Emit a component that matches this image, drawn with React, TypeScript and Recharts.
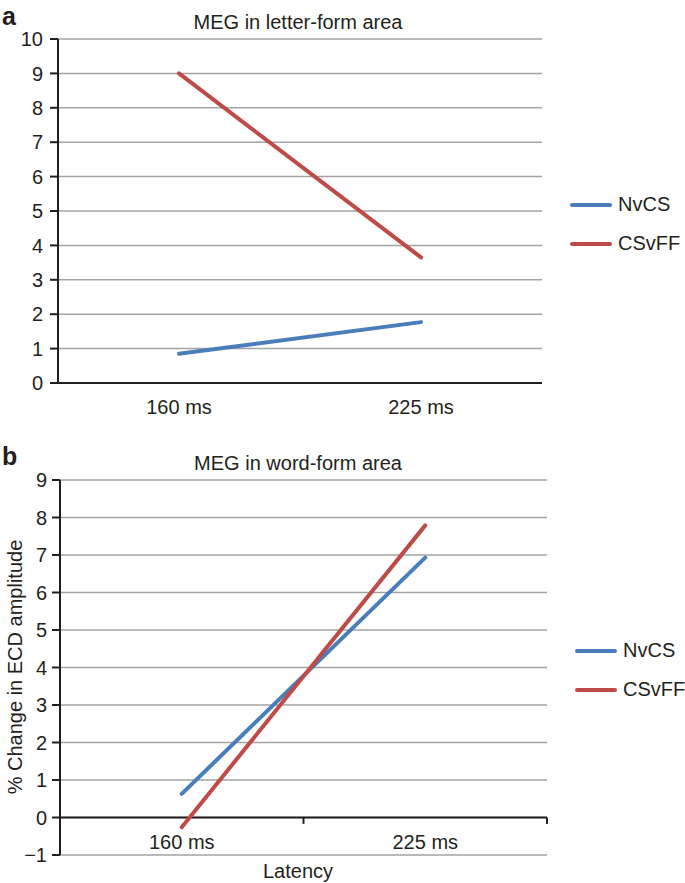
import { LineChart, Line, XAxis, YAxis, CartesianGrid, ReferenceLine, ReferenceDot } from 'recharts'

const categories = ['160 ms', '225 ms']
const seriesNames = ['NvCS', 'CSvFF']
const seriesColors = ['#4a7ebb', '#be4b48']

// panel a: letter-form area
const letterNvCS = [0.85, 1.77]
const letterCSvFF = [9.0, 3.65]
const letterTicks = [0, 1, 2, 3, 4, 5, 6, 7, 8, 9, 10]

// panel b: word-form area
const wordNvCS = [0.63, 6.93]
const wordCSvFF = [-0.26, 7.79]
const wordTicks = [-1, 0, 1, 2, 3, 4, 5, 6, 7, 8, 9]

const boundaryTicks = [0, 1, 2]

const ink = '#231f20'
const gridColor = '#a3a3a3'
const font = '"Liberation Sans", Arial, Helvetica, sans-serif'
const fs = 20

function buildData(nv: number[], cs: number[]) {
  return categories.map((c, i) => ({ x: i + 0.5, cat: c, NvCS: nv[i], CSvFF: cs[i] }))
}

const fmtTick = (v: number) => (v < 0 ? '\u2212' + Math.abs(v) : String(v))

function LegendBox({ top, left }: { top: number; left: number }) {
  return (
    <div style={{ position: 'absolute', top, left }}>
      {seriesNames.map((n, i) => (
        <div key={n} style={{ display: 'flex', alignItems: 'center', height: 39 }}>
          <div style={{ width: 42, height: 4, borderRadius: 2, background: seriesColors[i], marginRight: 6 }} />
          <span style={{ fontSize: fs, color: ink, fontFamily: font }}>{n}</span>
        </div>
      ))}
    </div>
  )
}

export default function App() {
  const dataA = buildData(letterNvCS, letterCSvFF)
  const dataB = buildData(wordNvCS, wordCSvFF)

  const series = seriesNames.map((n, i) => (
    <Line key={n} type="linear" dataKey={n} stroke={seriesColors[i]} strokeWidth={4}
      strokeLinecap="round" dot={false} activeDot={false} isAnimationActive={false} />
  ))

  // category names sit just under the zero line in both panels
  const labelsAt = categories.map((c, i) => (
    <ReferenceDot key={c} x={i + 0.5} y={0} r={0} fill="none" stroke="none"
      label={{ value: c, position: 'bottom', offset: 17, fill: ink, fontSize: fs, fontFamily: font }} />
  ))

  return (
    <div style={{ position: 'absolute', left: 0, top: 0, width: 685, height: 883, background: '#fff', fontFamily: font }}>

      {/* a: letter-form */}
      <div style={{ position: 'absolute', left: 0, top: 0 }}>
        <LineChart width={685} height={430} data={dataA} margin={{ top: 39, right: 143, bottom: 17, left: 0 }}>
          <CartesianGrid vertical={false} stroke={gridColor} strokeWidth={1.5} />
          <XAxis type="number" dataKey="x" domain={[0, 2]} ticks={boundaryTicks} tick={false}
            tickSize={7} height={30} axisLine={{ stroke: ink, strokeWidth: 2 }} tickLine={{ stroke: ink, strokeWidth: 2 }} />
          <YAxis type="number" domain={[0, 10]} ticks={letterTicks} interval={0} width={58}
            tickSize={8} tickMargin={7} tickFormatter={fmtTick}
            tick={{ fill: ink, fontSize: fs, fontFamily: font }}
            axisLine={{ stroke: ink, strokeWidth: 2 }} tickLine={{ stroke: ink, strokeWidth: 2 }} />
          {labelsAt}
          {series}
        </LineChart>
      </div>
      <LegendBox top={185} left={570} />

      {/* b: word-form */}
      <div style={{ position: 'absolute', left: 0, top: 440 }}>
        <LineChart width={685} height={443} data={dataB} margin={{ top: 40, right: 138, bottom: 28, left: 0 }}>
          <CartesianGrid vertical={false} stroke={gridColor} strokeWidth={1.5} />
          <XAxis type="number" dataKey="x" domain={[0, 2]} hide />
          <YAxis type="number" domain={[-1, 9]} ticks={wordTicks} interval={0} width={60}
            tickSize={8} tickMargin={5} tickFormatter={fmtTick}
            tick={{ fill: ink, fontSize: fs, fontFamily: font }}
            axisLine={{ stroke: ink, strokeWidth: 2 }} tickLine={{ stroke: ink, strokeWidth: 2 }} />
          <ReferenceLine y={0} stroke={ink} strokeWidth={2} />
          {boundaryTicks.slice(1).map(b => (
            <ReferenceLine key={b} segment={[{ x: b, y: 0 }, { x: b, y: -0.17 }]} stroke={ink} strokeWidth={2} />
          ))}
          {labelsAt}
          {series}
        </LineChart>
      </div>
      <LegendBox top={631} left={575} />

      {/* titles and panel letters */}
      <svg width={685} height={883} style={{ position: 'absolute', left: 0, top: 0, pointerEvents: 'none' }}>
        <g fontFamily={font} fill={ink}>
          <text x={2} y={25} fontSize={25} fontWeight="bold">a</text>
          <text x={2} y={465} fontSize={25} fontWeight="bold">b</text>
          <text x={298} y={29} fontSize={fs} textAnchor="middle">MEG in letter-form area</text>
          <text x={298} y={470} fontSize={fs} textAnchor="middle">MEG in word-form area</text>
          <text x={298} y={878} fontSize={fs} textAnchor="middle">Latency</text>
          <text x={22} y={667} fontSize={fs} textAnchor="middle" transform="rotate(-90, 22, 667)">% Change in ECD amplitude</text>
        </g>
      </svg>
    </div>
  )
}
